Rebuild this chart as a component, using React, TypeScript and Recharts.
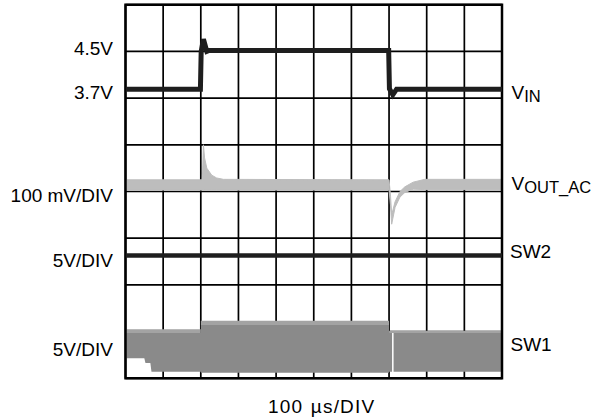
import React from 'react';
import { ComposedChart, Line, Area, XAxis, YAxis, CartesianGrid, ReferenceArea } from 'recharts';

// Scope grid: 10 horizontal divisions x 8 vertical divisions
const xTicks = [0, 1, 2, 3, 4, 5, 6, 7, 8, 9, 10];
const yTicks = [0, 1, 2, 3, 4, 5, 6, 7, 8];

// VIN trace (position in divisions)
const vinT = [0, 1.99, 2.01, 2.07, 2.16, 2.22, 6.99, 7.01, 7.1, 7.2, 10];
const vinV = [6.19, 6.19, 7.0, 7.26, 7.0, 7.02, 7.02, 6.2, 6.07, 6.19, 6.19];

// VOUT_AC band (low / high edge of the noisy trace)
const voutT = [0, 2.04, 2.07, 2.1, 2.16, 2.29, 2.42, 2.6, 7.0, 7.04, 7.07, 7.16, 7.29, 7.42, 7.64, 7.95, 10];
const voutHi = [4.25, 4.25, 5.0, 4.72, 4.5, 4.35, 4.29, 4.26, 4.25, 3.9, 3.5, 3.78, 4.0, 4.1, 4.2, 4.26, 4.26];
const voutLo = [4.03, 4.03, 4.03, 4.03, 4.03, 4.03, 4.03, 4.03, 4.03, 3.7, 3.3, 3.66, 3.88, 3.98, 4.05, 4.04, 4.04];

// SW2 trace
const sw2T = [0, 10];
const sw2V = [2.63, 2.63];

// SW1 switching envelope
const sw1T = [0, 0.5, 0.53, 0.66, 0.69, 2.0, 2.0, 7.0, 7.0, 7.08, 7.08, 7.12, 7.12, 10];
const sw1Light = [1.05, 1.05, 1.05, 1.05, 1.05, 1.05, 1.23, 1.23, 1.02, 1.02, 1.02, 1.02, 1.02, 1.02];
const sw1Top = [0.97, 0.97, 0.97, 0.97, 0.97, 0.97, 1.14, 1.14, 0.97, 0.97, 0.97, 0.97, 0.97, 0.97];
const sw1Bot = [0.43, 0.43, 0.33, 0.33, 0.14, 0.14, 0.12, 0.12, 0.14, 0.14, 0.97, 0.97, 0.14, 0.14];

const vinData = vinT.map((t, i) => ({ t, v: vinV[i] }));
const voutData = voutT.map((t, i) => ({ t, r: [voutLo[i], voutHi[i]] }));
const sw2Data = sw2T.map((t, i) => ({ t, v: sw2V[i] }));
const sw1Data = sw1T.map((t, i) => ({ t, main: [sw1Bot[i], sw1Top[i]], light: [sw1Top[i], sw1Light[i]] }));

const FONT = '"Liberation Sans", Arial, sans-serif';
const FS = 19;
const LH = 20;
const baseTop = (baseline: number, fs = FS) => baseline - (LH - fs * 1.117) / 2 - fs * 0.905;

const TextAt = ({ left, width, baseline, align, children, style }: any) => (
  <div
    style={{
      position: 'absolute',
      left,
      width,
      top: baseTop(baseline),
      height: LH,
      lineHeight: LH + 'px',
      fontSize: FS,
      fontFamily: FONT,
      color: '#000',
      textAlign: align || 'left',
      whiteSpace: 'nowrap',
      ...style,
    }}
  >
    {children}
  </div>
);

const Sub = ({ children }: any) => (
  <span style={{ fontSize: 16.5, position: 'relative', top: 3 }}>{children}</span>
);

export default function App() {
  return (
    <div style={{ position: 'absolute', left: 0, top: 0, width: 598, height: 418, background: '#fff' }}>
      <ComposedChart
        width={598}
        height={418}
        margin={{ top: 4.7, right: 96, bottom: 39.7, left: 125.5 }}
      >
        <XAxis dataKey="t" type="number" domain={[0, 10]} ticks={xTicks} hide allowDataOverflow />
        <YAxis type="number" domain={[0, 8]} ticks={yTicks} hide allowDataOverflow />
        <Area data={sw1Data} dataKey="light" type="linear" stroke="none" fill="#a3a3a3" fillOpacity={1} isAnimationActive={false} dot={false} activeDot={false} />
        <Area data={sw1Data} dataKey="main" type="linear" stroke="none" fill="#8a8a8a" fillOpacity={1} isAnimationActive={false} dot={false} activeDot={false} />
        <Area data={voutData} dataKey="r" type="linear" stroke="#bdbdbd" strokeWidth={1} fill="#bdbdbd" fillOpacity={1} isAnimationActive={false} dot={false} activeDot={false} />
        <Line data={sw2Data} dataKey="v" type="linear" stroke="#1e1e1e" strokeWidth={4.5} dot={false} activeDot={false} isAnimationActive={false} />
        <Line data={vinData} dataKey="v" type="linear" stroke="#1e1e1e" strokeWidth={5} dot={false} activeDot={false} isAnimationActive={false} />
        <CartesianGrid stroke="#000" strokeWidth={1.7} strokeOpacity={1} />
        <ReferenceArea x1={0} x2={10} y1={0} y2={8} fill="none" fillOpacity={0} stroke="#000" strokeWidth={2.5} ifOverflow="visible" />
      </ComposedChart>

      <TextAt left={0} width={113} baseline={56} align="right">4.5V</TextAt>
      <TextAt left={0} width={113} baseline={100} align="right">3.7V</TextAt>
      <TextAt left={0} width={113} baseline={203} align="right">100 mV/DIV</TextAt>
      <TextAt left={0} width={113} baseline={267.5} align="right">5V/DIV</TextAt>
      <TextAt left={0} width={113} baseline={356.5} align="right">5V/DIV</TextAt>

      <TextAt left={511.5} baseline={100}>V<Sub>IN</Sub></TextAt>
      <TextAt left={511.5} baseline={190.5}>V<Sub>OUT_AC</Sub></TextAt>
      <TextAt left={510} baseline={258.3}>SW2</TextAt>
      <TextAt left={510.5} baseline={351.7}>SW1</TextAt>

      <TextAt left={268} baseline={413.3} style={{ letterSpacing: 1.2, wordSpacing: 1 }}>100 µs/DIV</TextAt>
    </div>
  );
}
